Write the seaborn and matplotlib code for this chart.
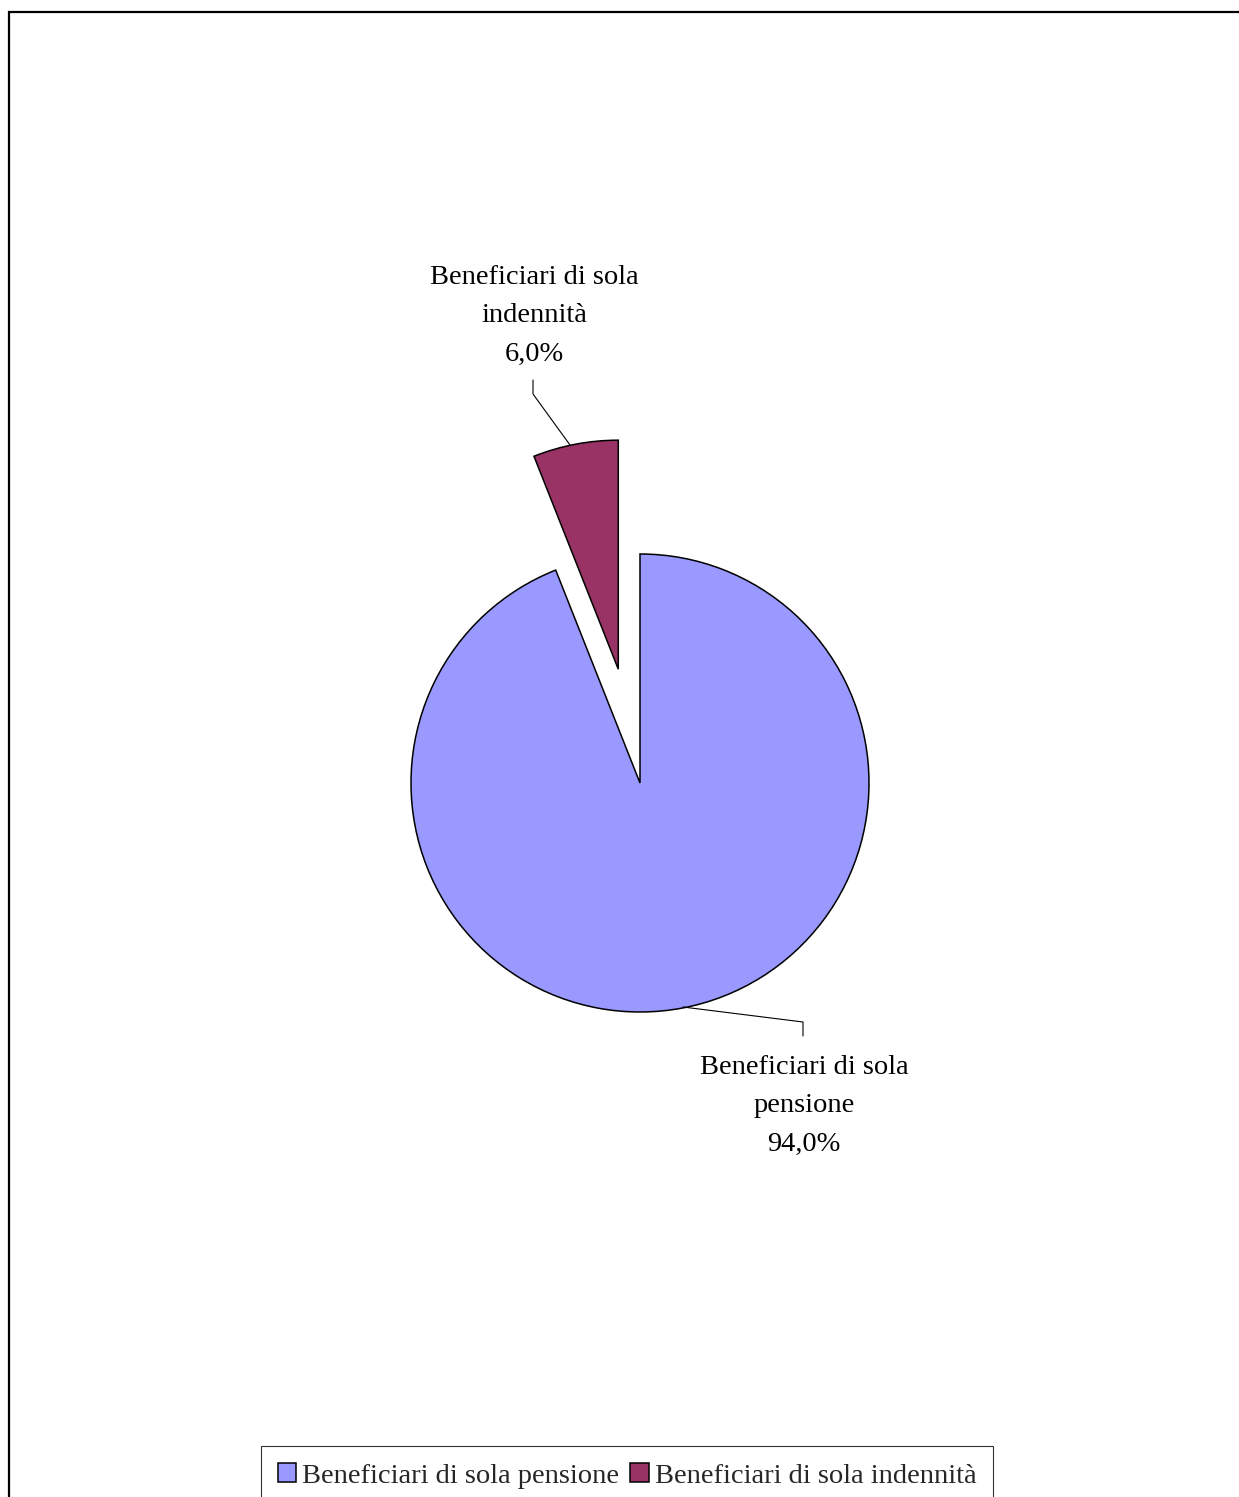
import numpy as np
import matplotlib.pyplot as plt
import matplotlib.patches as mpatches
import seaborn as sns

# data
categories = ['Beneficiari di sola pensione', 'Beneficiari di sola indennità']
label_text = ['Beneficiari di sola\npensione', 'Beneficiari di sola\nindennità']
shares = [94.0, 6.0]
colors = ['#9999FF', '#993366']

sns.set_theme(style="white")
plt.rcParams['font.family'] = ['Liberation Serif', 'DejaVu Serif']

W, H = 1239, 1497
fig = plt.figure(figsize=(W / 100, H / 100), dpi=100)
ax = fig.add_axes([0, 0, 1, 1])

# pie: pensione runs from 111.6 deg round to 90 deg, indennita exploded
r = 229
start = 90 + shares[1] * 3.6
wedges, _ = ax.pie(shares, colors=colors, startangle=start, counterclock=True,
                   explode=[0, 0.506 * r], radius=r, center=(640, H - 783),
                   wedgeprops=dict(edgecolor='black', linewidth=1.1),
                   frame=True)
ax.set_xlim(0, W)
ax.set_ylim(0, H)
ax.set_aspect('equal')
ax.axis('off')

# data labels with leader lines
lab_pos = [(804, 1106), (534, 316)]
leaders = [[(683, 1007), (803, 1022), (803, 1036)],
           [(570, 445), (533, 394), (533, 380)]]
for txt, v, (x, y), pts in zip(label_text, shares, lab_pos, leaders):
    s = f"{txt}\n{v:.1f}%".replace('.', ',')
    ax.text(x, H - y, s, ha='center', va='center', fontsize=20.5,
            linespacing=1.73, color='black')
    xs = [p[0] for p in pts]
    ys = [H - p[1] for p in pts]
    ax.plot(xs, ys, color='black', linewidth=0.8)

# outer chart frame
fig.patches.append(mpatches.Rectangle((9 / W, -0.05), 1.1, 1 - 12 / H + 0.05,
                                      transform=fig.transFigure, fill=False,
                                      edgecolor='black', linewidth=1.6))

leg = fig.legend(wedges, categories, loc='upper center',
                 bbox_to_anchor=(627 / W, 1 - 1446 / H), ncol=2,
                 fontsize=20.5, frameon=True, fancybox=False,
                 edgecolor='black', handlelength=0.65, handleheight=0.65,
                 handletextpad=0.2, columnspacing=0.4, borderpad=0.6,
                 borderaxespad=0)
leg.get_frame().set_linewidth(0.8)

fig.savefig('out.png', dpi=100)
